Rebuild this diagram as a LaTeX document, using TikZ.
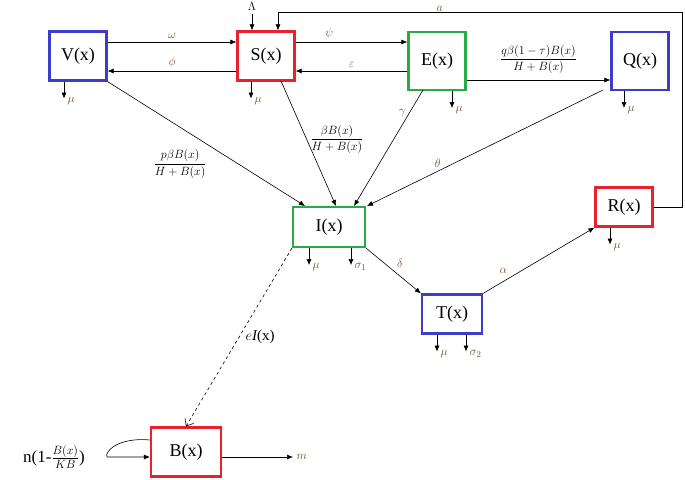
\documentclass[tikz,border=0pt]{standalone}
\usepackage{fontspec}
\setmainfont{Liberation Serif}
\usepackage{amsmath}
\usetikzlibrary{arrows.meta}
\definecolor{boxred}{RGB}{230,35,45}
\definecolor{boxblue}{RGB}{60,60,205}
\definecolor{boxgreen}{RGB}{40,170,70}
\definecolor{lab}{RGB}{120,80,40}
\tikzset{
  comp/.style={draw=#1, line width=2.2pt, minimum width=57pt, minimum height=49pt, inner sep=0pt, font=\fontsize{18}{20}\selectfont},
  flow/.style={-{Latex[length=6pt,width=5pt]}, line width=0.6pt},
  rate/.style={font=\fontsize{13}{15}\selectfont, text=lab},
  frac/.style={font=\fontsize{13}{15}\selectfont},
}
\begin{document}
\begin{tikzpicture}[x=1pt,y=-1pt]
\useasboundingbox (0,0) rectangle (685,479);
% compartments
\node[comp=boxblue] (V) at (78,56) {V(x)};
\node[comp=boxred] (S) at (266,56) {S(x)};
\node[comp=boxgreen, minimum height=58pt] (E) at (437,61) {E(x)};
\node[comp=boxblue, minimum height=58pt] (Q) at (640,61) {Q(x)};
\node[comp=boxgreen, minimum width=72pt, minimum height=40pt] (I) at (329,227) {I(x)};
\node[comp=boxred, minimum height=39pt] (R) at (624,207) {R(x)};
\node[comp=boxblue, minimum width=60pt, minimum height=39pt] (T) at (452,314) {T(x)};
\node[comp=boxred, minimum width=70pt, minimum height=49pt] (B) at (186,452) {B(x)};
% helper points
\coordinate (lam) at (252,0);
\coordinate (c1) at (682,207);
\coordinate (c2) at (682,12);
\coordinate (c3) at (278,12);
\coordinate (mo) at (293,457);
% horizontal flows
\draw[flow] (V.east |- 0,42) -- node[rate, above] {$\omega$} (S.west |- 0,42);
\draw[flow] (S.west |- 0,71) -- node[rate, above] {$\phi$} (V.east |- 0,71);
\draw[flow] (S.east |- 0,42) -- node[rate, above, pos=0.3] {$\psi$} (E.west |- 0,42);
\draw[flow] (E.west |- 0,71) -- node[rate, above] {$\varepsilon$} (S.east |- 0,71);
\draw[flow] (E.east |- 0,80) -- node[above=3pt, frac] {$\dfrac{q\beta(1-\tau)B(x)}{H+B(x)}$} (Q.west |- 0,80);
\node[frac] (lamtext) at (252,6) {$\Lambda$};
\draw[flow] (lamtext.south) -- (lamtext.south |- S.north);
\draw[flow] (R.east) -- (c1) -- (c2) -- node[rate, above, pos=0.6, yshift=-3pt] {$a$} (c3) -- (c3 |- S.north);
% infection
\draw[flow] (V.south east) -- node[pos=0.52, below left, frac] {$\dfrac{p\beta B(x)}{H+B(x)}$} (305,206);
\draw[flow] (281,81) -- node[pos=0.47, right, frac] {$\dfrac{\beta B(x)}{H+B(x)}$} (336,206);
\draw[flow] (423,90) -- node[rate, pos=0.2, left] {$\gamma$} (354,206);
\draw[flow] (603,90) -- node[rate, pos=0.7, above] {$\theta$} (367,206);
\draw[flow] (I.south east) -- node[rate, above right] {$\delta$} (T.north west);
\draw[flow] (T.north east) -- node[rate, above left, pos=0.25] {$\alpha$} (R.south west);
% deaths
\foreach \n/\x in {V/64,S/251,E/452,Q/624,R/610,I/309,T/437}
  \draw[flow] (\x,0 |- \n.south) -- ++(0,17) node[rate, right, yshift=-2pt] {$\mu$};
\draw[flow] (351,0 |- I.south) -- ++(0,17) node[rate, right, yshift=-2pt] {$\sigma_1$};
\draw[flow] (466,0 |- T.south) -- ++(0,17) node[rate, right, yshift=-2pt] {$\sigma_2$};
% bacteria
\draw[dashed, line width=0.6pt, -{Straight Barb[length=6pt,width=10pt]}] (I.south west) -- node[right=3pt, font=\fontsize{15}{17}\selectfont] {$e\mathit{I}$(x)} (B.north);
\draw[flow] (B.east |- mo) -- (mo) node[rate, right] {$m$};
\node[font=\fontsize{17}{19}\selectfont] (grow) at (54,457) {n(1-$\frac{B(x)}{KB}$)};
\draw[flow] (B.west |- 0,440) .. controls (118,437) and (104,452) .. (107,457) -- (B.west |- 0,457);
\end{tikzpicture}
\end{document}
